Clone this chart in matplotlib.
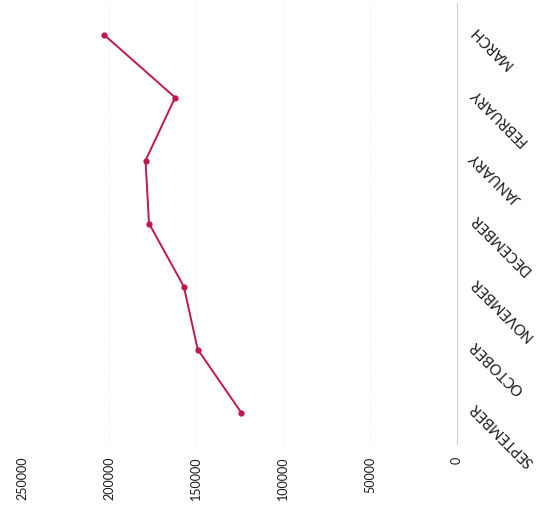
import matplotlib
matplotlib.use("Agg")
import matplotlib.pyplot as plt
from matplotlib.transforms import ScaledTranslation

months = ["SEPTEMBER", "OCTOBER", "NOVEMBER", "DECEMBER", "JANUARY", "FEBRUARY", "MARCH"]
values = [124000, 149000, 157000, 177000, 179000, 162000, 203000]
value_ticks = [0, 50000, 100000, 150000, 200000, 250000]

plt.rcParams['font.family'] = ['Lato', 'DejaVu Sans']

fig = plt.figure(figsize=(5.39, 5.21), dpi=100)
ax = fig.add_axes([22/539, 77/521, 435/539, 441/521])

pos = list(range(len(months)))
ax.plot(values, pos, color="#c2174b", lw=1.4, marker="o", ms=3.5, zorder=3)

ax.set_xlim(250000, 0)
ax.set_ylim(-0.5, len(months) - 0.5)

ax.set_xticks(value_ticks)
ax.set_xticklabels([str(v) for v in value_ticks], rotation=90, fontsize=9, color="#1a1a1a")
ax.tick_params(axis="x", length=0, pad=9)

ax.yaxis.tick_right()
ax.set_yticks(pos)
ax.set_yticklabels(months, rotation=135, fontsize=10.5, color="#1a1a1a",
                   ha="right", va="center", rotation_mode="anchor")
ax.tick_params(axis="y", length=0, pad=12)
offset = ScaledTranslation(-1/100, 7/100, fig.dpi_scale_trans)
for lab in ax.get_yticklabels():
    lab.set_transform(lab.get_transform() + offset)

for s in ["top", "bottom", "left"]:
    ax.spines[s].set_visible(False)
ax.spines["right"].set_color("#d0d0d0")
ax.spines["right"].set_linewidth(0.8)

for v in value_ticks[1:5]:
    ax.axvline(v, color="#e4e4e4", lw=0.7, ls=(0, (1, 2)), zorder=1)

fig.savefig("out.png", dpi=100)
